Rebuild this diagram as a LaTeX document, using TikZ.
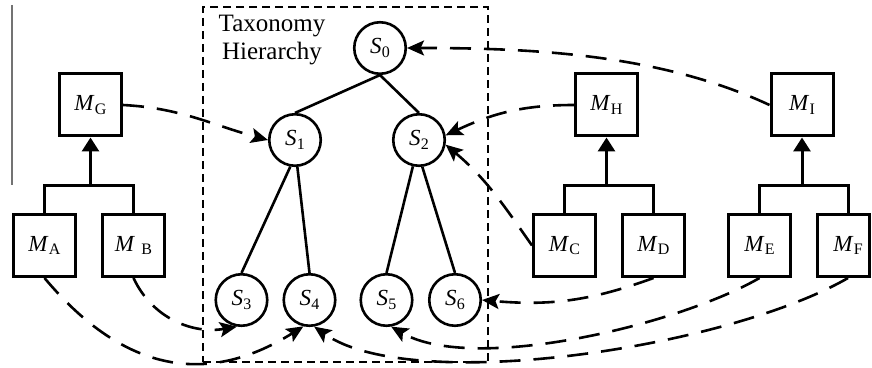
\documentclass[tikz,border=0pt]{standalone}
\usepackage{fontspec}
\setmainfont{Liberation Serif}
\usetikzlibrary{arrows.meta}
\newcommand{\mlab}[2]{\textit{#1}\kern0.3pt\raisebox{-3.5pt}{\fontsize{16}{16}\selectfont #2}}
\begin{document}
\begin{tikzpicture}[x=1pt,y=1pt,
  mbox/.style={draw, line width=3pt, minimum width=62pt, minimum height=62pt, inner sep=0pt, font=\fontsize{23}{23}\selectfont},
  snode/.style={circle, draw, line width=2.6pt, minimum size=51.5pt, inner sep=0pt, font=\fontsize{23}{23}\selectfont},
  tree/.style={line width=2.6pt},
  brk/.style={line width=3pt},
  uparrow/.style={line width=3pt, -{Triangle[length=14pt,width=17pt]}},
  conn/.style={line width=2.6pt, dash pattern=on 21pt off 13pt, -{Stealth[length=17pt,width=15pt,inset=3.5pt]}},
  hierbox/.style={draw, line width=1.6pt, dash pattern=on 8pt off 5pt, inner sep=0pt},
]
\useasboundingbox (0,0) rectangle (872,367);

% stray gray rule
\draw[black!55, line width=1.3pt] (12,362) -- (12,182);

% taxonomy box
\node[hierbox, minimum width=285pt, minimum height=355pt] (hier) at (345.5,182.5) {};
\node[font=\fontsize{25}{28.5}\selectfont, align=center, inner sep=0pt] (title) at (272,327) {Taxonomy\\Hierarchy};

% S nodes
\node[snode] (S0) at (380,319) {\mlab{S}{0}};
\node[snode] (S1) at (295,227) {\mlab{S}{1}};
\node[snode] (S2) at (419,227) {\mlab{S}{2}};
\node[snode] (S3) at (241.5,67) {\mlab{S}{3}};
\node[snode] (S4) at (309.5,67) {\mlab{S}{4}};
\node[snode] (S5) at (386.5,67) {\mlab{S}{5}};
\node[snode] (S6) at (455,67) {\mlab{S}{6}};

\draw[tree] (S0.south) -- (S1.north);
\draw[tree] (S0.south) -- (S2.north);
\draw[tree] (S1.-100) -- (S3.north);
\draw[tree] (S1.-85) -- (S4.north);
\draw[tree] (S2.-103) -- (S5.north);
\draw[tree] (S2.-83) -- (S6.north);

% M boxes
\node[mbox] (MG) at (90.5,262) {\mlab{M}{G}};
\node[mbox] (MA) at (44.5,121.5) {\mlab{M}{A}};
\node[mbox] (MB) at (133.5,121.5) {\mlab{M}{\hspace{6pt}B}};
\node[mbox] (MH) at (606.5,262) {\mlab{M}{H}};
\node[mbox] (MI) at (802,262) {\mlab{M}{I}};
\node[mbox] (MC) at (564.5,121.5) {\mlab{M}{C}};
\node[mbox] (MD) at (653.5,121.5) {\mlab{M}{D}};
\node[mbox] (ME) at (759.5,121.5) {\mlab{M}{E}};
\node[mbox, minimum width=52pt] (MF) at (843.5,121.5) {\hspace*{9pt}\mlab{M}{F}};
\coordinate (MFc) at (848,121.5);

% brackets
\coordinate (bAB) at (90.5,181);
\coordinate (bCD) at (606.5,181);
\coordinate (bEF) at (802,181);
\draw[brk] (MA.north) |- (bAB) -| (MB.north);
\draw[uparrow] (bAB) -- (MG.south);
\draw[brk] (MC.north) |- (bCD) -| (MD.north);
\draw[uparrow] (bCD) -- (MH.south);
\draw[brk] (ME.north) |- (bEF) -| (MFc |- MF.north);
\draw[uparrow] (bEF) -- (MI.south);

% dashed connectors
\draw[conn] (MG.east) to[out=-3, in=165] (S1.west);
\draw[conn] (MI.west) to[out=155, in=0, looseness=0.85] (S0.east);
\draw[conn] (MH.west) to[out=180, in=25] (S2.10);
\draw[conn] (MC.west) to[out=125, in=-40] (S2.-10);
\draw[conn] (MA.south) to[out=-50, in=-148, looseness=1.15] (S4.-103);
\draw[conn] (MB.south) to[out=-65, in=-170] (S3.-100);
\draw[conn] (MD.south) to[out=-160, in=-5] (S6.east);
\draw[conn] (ME.south) to[out=-150, in=-30, looseness=0.65] (S5.-80);
\draw[conn] (MFc |- MF.south) to[out=-150, in=-35, out looseness=0.67, in looseness=0.57] (S4.-80);
\end{tikzpicture}
\end{document}
